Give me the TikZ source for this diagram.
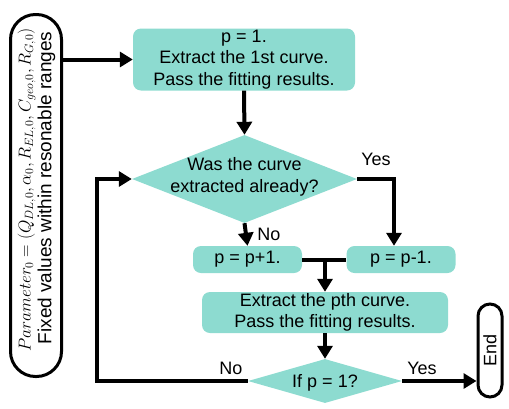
\documentclass[tikz,border=0pt]{standalone}
\usepackage{fontspec}
\setmainfont{Liberation Sans}
\usetikzlibrary{shapes.geometric,arrows.meta}
\definecolor{tealfill}{HTML}{8DDBD0}
\begin{document}
\begin{tikzpicture}[x=1pt,y=-1pt,
  fnt/.style={font=\fontsize{18}{21.5}\selectfont},
  box/.style={fill=tealfill, rounded corners=8pt, inner sep=0pt, align=center, fnt},
  dia/.style={diamond, fill=tealfill, inner sep=0pt},
  txt/.style={align=center, fnt, inner sep=0pt},
  term/.style={draw=black, line width=3pt, inner sep=0pt, align=center, fnt},
  arr/.style={line width=4pt, -{Triangle[length=13pt,width=15pt]}},
  ln/.style={line width=4pt}]
\useasboundingbox (0,0) rectangle (509,408);
% start terminal
\node[term, rounded corners=25pt, minimum width=51pt, minimum height=362pt] (start) at (36,195.5) {};
\node[txt, rotate=90, font=\fontsize{16.5}{16.5}\selectfont] (startmath) at (26.5,190) {$Parameter_0 = (Q_{DL,0}, \alpha_0, R_{EL,0}, C_{geo,0}, R_{G,0})$};
\node[txt, rotate=90, font=\fontsize{19}{19}\selectfont] (starttxt) at (46.5,188) {Fixed values within resonable ranges};
% end terminal
\node[term, rounded corners=12pt, minimum width=24pt, minimum height=93pt] (end) at (490,350.5) {};
\node[txt, rotate=90] (endtxt) at (490,350.5) {End};
% boxes
\node[box, minimum width=222pt, minimum height=62pt] (b1) at (244,59.5) {p = 1.\\Extract the 1st curve.\\Pass the fitting results.};
\node[dia, minimum width=225pt, minimum height=88pt] (d1) at (244.5,179) {};
\node[txt] (d1t) at (244.5,177) {Was the curve\\extracted already?};
\node[box, minimum width=109pt, minimum height=27pt] (pp1) at (247.5,259.5) {p = p+1.};
\node[box, minimum width=109pt, minimum height=27pt] (pm1) at (401,259.5) {p = p-1.};
\node[box, minimum width=246pt, minimum height=41pt] (ex) at (325,312.5) {Extract the pth curve.\\Pass the fitting results.};
\node[dia, minimum width=154pt, minimum height=44pt] (d2) at (325,381) {};
\node[txt] (d2t) at (325,383) {If p = 1?};
% connectors
\draw[arr] (start.east |- b1.west) -- (b1.west);
\draw[arr] (b1.south) -- (d1.north);
\draw[arr] (d1.east) -| ([xshift=-7pt]pm1.north);
\node[txt] (yes1) at (376,159) {Yes};
\draw[arr] (d1.south) -- (pp1.north);
\node[txt] (no1) at (269,234) {No};
\draw[ln] (pp1.east) -- (pm1.west);
\draw[arr] (ex.north |- pp1.east) -- (ex.north);
\draw[arr] (ex.south) -- (d2.north);
\coordinate (loop) at (97,381);
\draw[arr] (d2.west) -- (loop) |- (d1.west);
\node[txt] (no2) at (231,368) {No};
\draw[arr] (d2.east) -- (end.west |- d2.east);
\node[txt] (yes2) at (422,368) {Yes};
\end{tikzpicture}
\end{document}
